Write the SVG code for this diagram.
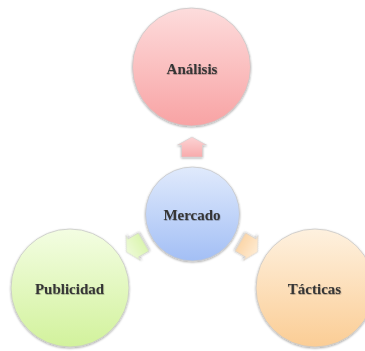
<svg xmlns="http://www.w3.org/2000/svg" width="365" height="351" viewBox="0 0 365 351">
<defs>
<linearGradient id="gRed" x1="0" y1="0" x2="0" y2="1"><stop offset="0" stop-color="#fddcdc"/><stop offset="1" stop-color="#f8a3a4"/></linearGradient>
<linearGradient id="gBlue" x1="0" y1="0" x2="0" y2="1"><stop offset="0" stop-color="#e0eafc"/><stop offset="1" stop-color="#a3bff5"/></linearGradient>
<linearGradient id="gGreen" x1="0" y1="0" x2="0" y2="1"><stop offset="0" stop-color="#f3fde2"/><stop offset="1" stop-color="#d2f29c"/></linearGradient>
<linearGradient id="gOrange" x1="0" y1="0" x2="0" y2="1"><stop offset="0" stop-color="#fef1df"/><stop offset="1" stop-color="#fbcd95"/></linearGradient>
<linearGradient id="aRed" x1="0" y1="0" x2="0" y2="1"><stop offset="0" stop-color="#fcd3d4"/><stop offset="1" stop-color="#f8abac"/></linearGradient>
<linearGradient id="aGreen" x1="0" y1="0" x2="0" y2="1"><stop offset="0" stop-color="#eefad8"/><stop offset="1" stop-color="#dbf5b0"/></linearGradient>
<linearGradient id="aOrange" x1="0" y1="0" x2="0" y2="1"><stop offset="0" stop-color="#feebd3"/><stop offset="1" stop-color="#fcd6a8"/></linearGradient>
<filter id="sh" x="-20%" y="-20%" width="140%" height="140%"><feDropShadow dx="0" dy="1" stdDeviation="1.2" flood-color="#000" flood-opacity="0.35"/></filter>
<filter id="tsh" x="-10%" y="-30%" width="120%" height="160%"><feDropShadow dx="0.5" dy="0.8" stdDeviation="0.6" flood-color="#000" flood-opacity="0.3"/></filter>
<path id="arrow" d="M0,-10 L14.5,-2 L10.5,-2 L10.5,10 L-10.5,10 L-10.5,-2 L-14.5,-2 Z"/>
</defs>
<style>
.node circle{stroke:#c8c8c8;stroke-width:0.8;filter:url(#sh)}
.node text{font-family:"Liberation Serif","Times New Roman",serif;font-size:15px;font-weight:bold;fill:#363636;text-anchor:middle;dominant-baseline:central;filter:url(#tsh)}
.conn use{stroke:#d0d0d0;stroke-width:0.6;filter:url(#sh)}
</style>
<rect width="365" height="351" fill="#ffffff"/>
<g id="connectors" class="conn">
<use href="#arrow" fill="url(#aRed)" transform="translate(192,147)"/>
<use href="#arrow" fill="url(#aGreen)" transform="translate(135,247) rotate(-120)"/>
<use href="#arrow" fill="url(#aOrange)" transform="translate(249,247) rotate(120)"/>
</g>
<g id="analisis" class="node">
<circle cx="191.5" cy="67" r="59" fill="url(#gRed)"/>
<text x="192" y="69">Análisis</text>
</g>
<g id="mercado" class="node">
<circle cx="192.5" cy="214" r="47" fill="url(#gBlue)"/>
<text x="192" y="215">Mercado</text>
</g>
<g id="publicidad" class="node">
<circle cx="70" cy="288" r="59" fill="url(#gGreen)"/>
<text x="69.5" y="289">Publicidad</text>
</g>
<g id="tacticas" class="node">
<circle cx="315" cy="288" r="59" fill="url(#gOrange)"/>
<text x="314.5" y="289">Tácticas</text>
</g>
</svg>
